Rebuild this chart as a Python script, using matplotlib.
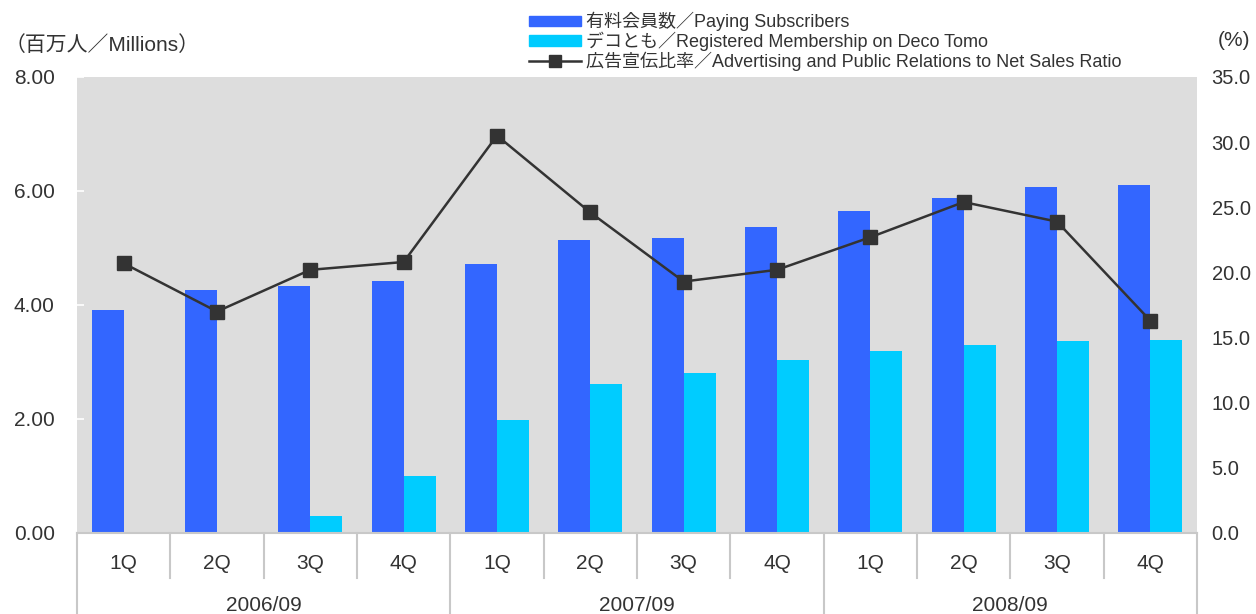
import matplotlib.pyplot as plt
import numpy as np
from matplotlib.patches import Patch
from matplotlib.lines import Line2D

plt.rcParams['font.family'] = ['Liberation Sans', 'Noto Sans CJK JP', 'DejaVu Sans']

quarters = ['1Q', '2Q', '3Q', '4Q'] * 3
years = ['2006/09', '2007/09', '2008/09']
paying = [3.91, 4.26, 4.33, 4.42, 4.72, 5.14, 5.18, 5.37, 5.65, 5.88, 6.07, 6.11]
deco = [0.0, 0.0, 0.30, 1.00, 1.98, 2.61, 2.81, 3.04, 3.19, 3.30, 3.37, 3.39]
ad_ratio = [20.7, 17.0, 20.2, 20.8, 30.5, 24.6, 19.3, 20.2, 22.7, 25.4, 23.9, 16.3]

label_pay = '有料会員数／Paying Subscribers'
label_deco = 'デコとも／Registered Membership on Deco Tomo'
label_ad = '広告宣伝比率／Advertising and Public Relations to Net Sales Ratio'

txt = '#333333'
blue = '#3366FF'
cyan = '#00CCFF'
sep = '#C8C8C8'

fig = plt.figure(figsize=(12.56, 6.14), dpi=100)
ax = fig.add_axes([77/1256, 81/614, 1120/1256, 456/614])
ax.set_facecolor('#DDDDDD')

x = np.arange(len(quarters))
w = 0.343
ax.bar(x - w/2, paying, w, color=blue, zorder=2)
ax.bar(x + w/2, deco, w, color=cyan, zorder=2)
ax.set_xlim(-0.5, len(quarters) - 0.5)
ax.set_ylim(0, 8)
ax.set_yticks(np.arange(0, 8.01, 2))
ax.set_yticklabels(['%.2f' % v for v in np.arange(0, 8.01, 2)])
ax.tick_params(axis='y', direction='in', length=5, width=1.2, color='white',
               labelsize=15, labelcolor=txt, pad=16)
ax.set_xticks([])
for s in ['top', 'left', 'right']:
    ax.spines[s].set_visible(False)
ax.spines['bottom'].set_color(sep)
ax.spines['bottom'].set_linewidth(1.5)

ax2 = ax.twinx()
ax2.plot(x, ad_ratio, color=txt, lw=1.8, marker='s', markersize=10.5, zorder=3)
ax2.set_ylim(0, 35)
ax2.set_yticks(np.arange(0, 35.1, 5))
ax2.set_yticklabels(['%.1f' % v for v in np.arange(0, 35.1, 5)])
ax2.tick_params(axis='y', length=0, labelsize=14.5, labelcolor=txt, pad=10.5)
for s in ax2.spines.values():
    s.set_visible(False)

# category axis separators and labels
trans = ax.get_xaxis_transform()
for b in np.arange(-0.5, len(quarters), 1):
    low = -0.178 if (b + 0.5) % 4 == 0 else -0.099
    ax.plot([b, b], [0, low], color=sep, lw=1.5, transform=trans, clip_on=False)
for i, q in enumerate(quarters):
    ax.text(i, -0.066, q, transform=trans, ha='center', va='center', fontsize=15, color=txt)
for j, yr in enumerate(years):
    ax.text(4*j + 1.5, -0.158, yr, transform=trans, ha='center', va='center', fontsize=15, color=txt)

fig.text(5/1256, 1 - 45/614, '（百万人／Millions）', ha='left', va='center', fontsize=15, color=txt)
fig.text(1234/1256, 1 - 40/614, '(%)', ha='center', va='center', fontsize=15, color=txt)

handles = [Patch(color=blue), Patch(color=cyan),
           Line2D([], [], color=txt, lw=1.8, marker='s', markersize=9)]
fig.legend(handles, [label_pay, label_deco, label_ad], loc='upper left',
           bbox_to_anchor=(520/1256, 1 - 3/614), frameon=False, fontsize=13,
           handlelength=2.9, handleheight=0.55, handletextpad=0.25,
           labelspacing=0.02, borderpad=0, labelcolor=txt)

fig.savefig('out.png', dpi=100)
